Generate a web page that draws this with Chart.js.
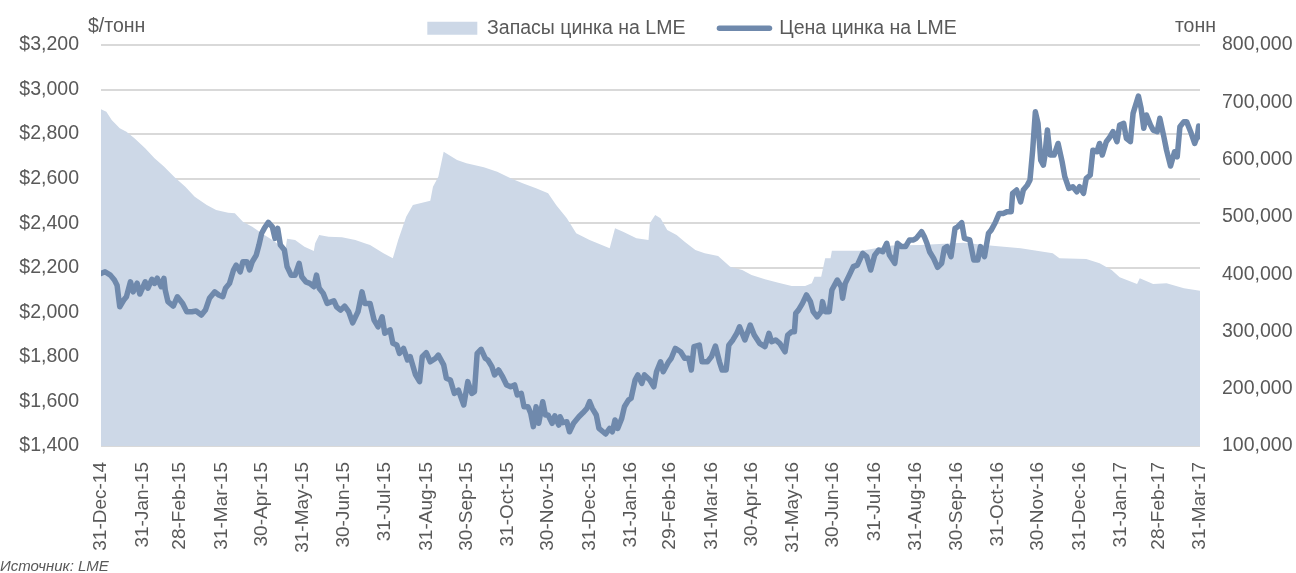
<!DOCTYPE html>
<html>
<head>
<meta charset="utf-8">
<script src="https://cdn.jsdelivr.net/npm/chart.js@4.4.1/dist/chart.umd.min.js"></script>
<style>
  html, body { margin: 0; padding: 0; background: #ffffff; }
  #wrap { width: 1296px; height: 573px; }
</style>
</head>
<body>
<div id="wrap"><canvas id="zincChart" width="1296" height="573"></canvas></div>
<script>
    // Month-end ticks, counted in days from 31-Dec-14
    var tickDays = [0, 31, 59, 90, 120, 151, 181, 212, 243, 273, 304, 334, 365, 396,
        425, 456, 486, 517, 547, 578, 609, 639, 670, 700, 731, 762, 790, 821];
    var tickLabels = ['31-Dec-14', '31-Jan-15', '28-Feb-15', '31-Mar-15', '30-Apr-15', '31-May-15',
        '30-Jun-15', '31-Jul-15', '31-Aug-15', '30-Sep-15', '31-Oct-15', '30-Nov-15', '31-Dec-15',
        '31-Jan-16', '29-Feb-16', '31-Mar-16', '30-Apr-16', '31-May-16', '30-Jun-16', '31-Jul-16',
        '31-Aug-16', '30-Sep-16', '31-Oct-16', '30-Nov-16', '31-Dec-16', '31-Jan-17', '28-Feb-17',
        '31-Mar-17'];

    // Zinc price on LME, $/t (day offset, value)
    var priceDays = [0, 3, 7, 10, 12, 14, 17, 19, 22, 24,
        27, 29, 33, 35, 38, 40, 42, 45, 47, 48,
        50, 54, 57, 61, 64, 68, 71, 75, 78, 81,
        85, 88, 91, 93, 96, 99, 101, 104, 106, 109,
        111, 113, 116, 118, 120, 122, 125, 128, 130, 132,
        134, 137, 139, 142, 145, 148, 150, 153, 156, 159,
        161, 163, 166, 169, 174, 176, 179, 182, 185, 188,
        192, 195, 197, 201, 204, 207, 210, 212, 216, 218,
        221, 223, 226, 229, 231, 235, 238, 240, 243, 246,
        250, 252, 256, 258, 261, 264, 267, 271, 274, 277,
        279, 281, 284, 287, 289, 292, 294, 297, 300, 303,
        306, 309, 311, 314, 316, 319, 321, 323, 325, 327,
        330, 332, 334, 337, 339, 342, 343, 345, 348, 350,
        353, 357, 360, 363, 365, 367, 370, 372, 375, 377,
        380, 382, 384, 386, 389, 391, 394, 396, 399, 401,
        404, 406, 410, 413, 415, 418, 420, 424, 426, 429,
        433, 436, 439, 441, 443, 447, 449, 453, 456, 459,
        462, 464, 467, 469, 472, 475, 477, 481, 485, 488,
        492, 496, 499, 501, 504, 507, 511, 513, 516, 518,
        519, 521, 524, 527, 530, 532, 535, 538, 539, 541,
        544, 546, 550, 553, 554, 556, 559, 562, 565, 569,
        572, 575, 578, 581, 584, 587, 589, 593, 595, 598,
        601, 604, 607, 609, 613, 615, 617, 619, 622, 625,
        628, 630, 632, 635, 638, 640, 643, 645, 649, 652,
        655, 657, 660, 663, 665, 668, 671, 674, 677, 680,
        681, 684, 687, 689, 692, 694, 696, 698, 700, 702,
        704, 705, 707, 709, 712, 715, 718, 720, 723, 726,
        729, 731, 734, 736, 739, 741, 744, 746, 748, 751,
        753, 756, 759, 761, 764, 766, 769, 771, 775, 777,
        779, 781, 784, 786, 789, 791, 794, 796, 799, 802,
        804, 806, 809, 811, 814, 817, 819, 820, 821];
    var priceValues = [2175, 2182, 2167, 2145, 2122, 2025, 2055, 2070, 2137, 2092,
        2131, 2082, 2137, 2108, 2148, 2130, 2153, 2115, 2153, 2100,
        2048, 2028, 2070, 2040, 2003, 2003, 2006, 1988, 2010, 2063,
        2092, 2078, 2070, 2108, 2130, 2190, 2212, 2182, 2227, 2227,
        2190, 2227, 2257, 2302, 2355, 2377, 2404, 2384, 2332, 2377,
        2302, 2280, 2205, 2167, 2167, 2220, 2160, 2137, 2130, 2115,
        2167, 2108, 2085, 2040, 2052, 2025, 2010, 2028, 2003, 1953,
        2003, 2092, 2040, 2040, 1965, 1935, 1980, 1906, 1921, 1861,
        1853, 1816, 1838, 1786, 1801, 1719, 1689, 1801, 1819, 1778,
        1794, 1808, 1764, 1704, 1696, 1636, 1651, 1584, 1689, 1636,
        1644, 1816, 1834, 1794, 1786, 1756, 1719, 1741, 1711, 1674,
        1666, 1674, 1629, 1636, 1576, 1576, 1547, 1487, 1576, 1502,
        1599, 1539, 1539, 1502, 1535, 1494, 1531, 1505, 1509, 1464,
        1502, 1531, 1549, 1569, 1599, 1569, 1539, 1479, 1464, 1454,
        1479, 1464, 1517, 1479, 1524, 1576, 1606, 1614, 1696, 1719,
        1681, 1719, 1696, 1666, 1733, 1778, 1733, 1778, 1794, 1838,
        1823, 1794, 1794, 1741, 1846, 1853, 1778, 1778, 1801, 1849,
        1778, 1741, 1741, 1853, 1876, 1906, 1935, 1876, 1943, 1898,
        1861, 1846, 1906, 1868, 1876, 1861, 1823, 1898, 1913, 1913,
        1996, 2010, 2040, 2078, 2048, 2003, 1980, 2003, 2048, 2003,
        2003, 2100, 2145, 2115, 2063, 2130, 2167, 2205, 2212, 2265,
        2250, 2190, 2257, 2280, 2272, 2310, 2257, 2220, 2310, 2295,
        2295, 2325, 2325, 2332, 2362, 2340, 2310, 2272, 2242, 2202,
        2220, 2287, 2295, 2250, 2377, 2384, 2402, 2332, 2325, 2235,
        2235, 2295, 2250, 2355, 2369, 2402, 2444, 2444, 2452, 2452,
        2534, 2549, 2496, 2549, 2571, 2594, 2728, 2900, 2848, 2683,
        2661, 2698, 2818, 2706, 2706, 2758, 2676, 2609, 2556, 2564,
        2541, 2564, 2534, 2601, 2616, 2728, 2721, 2758, 2706, 2766,
        2781, 2811, 2766, 2841, 2848, 2781, 2766, 2893, 2971, 2916,
        2826, 2886, 2841, 2818, 2811, 2871, 2788, 2728, 2657, 2721,
        2698, 2833, 2856, 2856, 2811, 2758, 2790, 2836, 2788];

    // Zinc stocks on LME, tonnes (day offset, value)
    var stockDays = [0, 4, 8, 14, 19, 25, 33, 40, 47, 55,
        63, 70, 79, 86, 95, 100, 106, 113, 120, 128,
        135, 138, 139, 145, 152, 159, 160, 163, 170, 180,
        190, 197, 201, 211, 218, 222, 228, 233, 246, 248,
        252, 256, 266, 273, 286, 296, 306, 315, 325, 334,
        340, 348, 355, 365, 380, 384, 390, 400, 409, 410,
        414, 418, 423, 430, 436, 444, 451, 461, 470, 479,
        486, 496, 506, 516, 526, 531, 533, 538, 541, 545,
        546, 568, 591, 612, 644, 666, 687, 711, 716, 736,
        746, 755, 761, 774, 776, 786, 796, 809, 821];
    var stockValues = [688000, 683500, 669000, 654600, 648600, 637100, 619700, 602200, 587700, 569000,
        552700, 535200, 520700, 512000, 507200, 506200, 491500, 482800, 471300, 459600,
        447900, 446000, 462000, 459600, 447900, 440400, 453800, 468300, 465300, 464300,
        459600, 453800, 450900, 436400, 427600, 459600, 500300, 520700, 528200, 552700,
        570100, 613700, 599200, 593500, 586500, 578800, 567300, 558600, 549800, 541100,
        520700, 497500, 471300, 459600, 445100, 480000, 474100, 462600, 459600, 488700,
        503200, 497500, 477100, 468300, 456600, 442100, 436400, 431700, 413000, 407200,
        398500, 391000, 385100, 379300, 379300, 383900, 395500, 395500, 427600, 427600,
        440900, 441000, 450000, 451000, 455000, 449600, 445100, 436400, 427600, 426400,
        418900, 407200, 394500, 382800, 392700, 382800, 384000, 375300, 371100];

    var areaColor = '#CDD8E7';
    var lineColor = '#6F89AC';
    var textColor = '#595959';
    var fontName = "'Liberation Sans', Arial, sans-serif";

    Chart.defaults.font.family = fontName;
    Chart.defaults.font.size = 19.5;
    Chart.defaults.color = textColor;

    // unit captions above the axes and the source note
    var captions = {
        id: 'captions',
        afterLayout: function (chart) {
            // the legend in the original sits a bit right of centre and lower
            chart.legend.left += 44;
            chart.legend.right += 44;
            chart.legend.top += 3;
            chart.legend.bottom += 3;
        },
        afterDraw: function (chart) {
            var c = chart.ctx;
            c.save();
            c.fillStyle = textColor;
            c.textBaseline = 'middle';
            c.font = '19.5px ' + fontName;
            c.textAlign = 'left';
            c.fillText('$/тонн', 88, 27);
            c.textAlign = 'right';
            c.fillText('тонн', 1216, 27);
            c.font = 'italic 15px ' + fontName;
            c.textAlign = 'left';
            c.textBaseline = 'alphabetic';
            c.fillText('Источник: LME', 0, 571);
            c.restore();
        }
    };

    var ctx = document.getElementById('zincChart').getContext('2d');

    var zincChart = new Chart(ctx, {
        type: 'line',
        data: {
            datasets: [{
                label: 'Запасы цинка на LME',
                data: stockDays.map(function (d, i) { return { x: d, y: stockValues[i] }; }),
                yAxisID: 'yStock',
                backgroundColor: areaColor,
                borderWidth: 0,
                pointRadius: 0,
                fill: 'start',
                order: 1
            }, {
                label: 'Цена цинка на LME',
                data: priceDays.map(function (d, i) { return { x: d, y: priceValues[i] }; }),
                yAxisID: 'yPrice',
                borderColor: lineColor,
                borderWidth: 5.5,
                borderJoinStyle: 'round',
                borderCapStyle: 'round',
                pointRadius: 0,
                fill: false,
                order: 0
            }]
        },
        options: {
            responsive: false,
            animation: false,
            layout: { padding: { left: 0, top: -18.5, right: 0, bottom: 0 } },
            plugins: {
                tooltip: { enabled: false },
                legend: {
                    position: 'top',
                    labels: {
                        usePointStyle: true,
                        pointStyleWidth: 50,
                        boxWidth: 50,
                        boxHeight: 13,
                        padding: 34,
                        font: { size: 19.5 },
                        generateLabels: function () {
                            return [{
                                text: 'Запасы цинка на LME',
                                fillStyle: areaColor,
                                strokeStyle: areaColor,
                                lineWidth: 0,
                                pointStyle: 'rect',
                                fontColor: textColor,
                                datasetIndex: 0
                            }, {
                                text: 'Цена цинка на LME',
                                fillStyle: lineColor,
                                strokeStyle: lineColor,
                                lineWidth: 5.5,
                                lineCap: 'round',
                                pointStyle: 'line',
                                fontColor: textColor,
                                datasetIndex: 1
                            }];
                        }
                    }
                }
            },
            scales: {
                x: {
                    type: 'linear',
                    min: 0,
                    max: 821,
                    afterBuildTicks: function (scale) {
                        scale.ticks = tickDays.map(function (d) { return { value: d }; });
                    },
                    afterFit: function (scale) { scale.height = 127; },
                    grid: { display: false },
                    border: { display: false },
                    ticks: {
                        autoSkip: false,
                        minRotation: 90,
                        maxRotation: 90,
                        padding: 8,
                        font: { size: 19 },
                        callback: function (value, index) { return tickLabels[index]; }
                    }
                },
                yPrice: {
                    position: 'left',
                    min: 1400,
                    max: 3200,
                    afterFit: function (scale) { scale.width = 101; },
                    grid: { color: '#D9D9D9', lineWidth: 2, drawTicks: false },
                    border: { display: false },
                    ticks: {
                        stepSize: 200,
                        padding: 22,
                        callback: function (v) { return '$' + v.toLocaleString('en-US'); }
                    }
                },
                yStock: {
                    position: 'right',
                    min: 100000,
                    max: 800000,
                    afterFit: function (scale) { scale.width = 96; },
                    grid: { display: false, drawTicks: false },
                    border: { display: false },
                    ticks: {
                        stepSize: 100000,
                        padding: 22,
                        callback: function (v) { return v.toLocaleString('en-US'); }
                    }
                }
            }
        },
        plugins: [captions]
    });
</script>
</body>
</html>
